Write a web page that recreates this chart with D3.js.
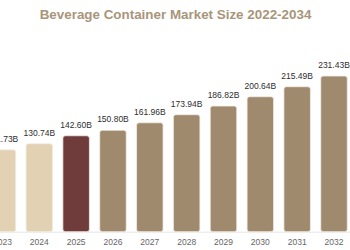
<!DOCTYPE html>
<meta charset="utf-8">
<style>
body { margin: 0; background: #fff; }
.title { font: bold 13.4px "Liberation Sans", Arial, sans-serif; fill: #a8957a; }
.vals { font: 8.5px "Liberation Sans", Arial, sans-serif; fill: #2e2e2e; }
.ticks text { font: 8.5px "Liberation Sans", Arial, sans-serif; fill: #666; }
</style>
<body>
<svg width="350" height="250"></svg>
</body>
<script src="https://cdn.jsdelivr.net/npm/d3@7"></script>
<script>

var years = ["2022","2023","2024","2025","2026","2027","2028","2029","2030","2031","2032","2033","2034"];
var values = [113.2, 121.73, 130.74, 142.60, 150.80, 161.96, 173.94, 186.82, 200.64, 215.49, 231.43, 248.55, 266.94];
var barColors = ["#e2d1b3","#e2d1b3","#e2d1b3","#6f3c3b","#a08a6e","#a08a6e","#a08a6e","#a08a6e","#a08a6e","#a08a6e","#a08a6e","#a08a6e","#a08a6e"];

var svg = d3.select("svg");
var baseY = 231.7;

// band layout wider than the window, the ends are cut off like in the original
var x = d3.scaleBand()
    .domain(years)
    .range([-52.8, 426.1])
    .paddingInner(0.28)
    .paddingOuter(0.14);

var y = d3.scaleLinear()
    .domain([0, 231.43])
    .range([baseY, 76]);

svg.append("text")
    .attr("class", "title")
    .attr("x", 175.5)
    .attr("y", 18.5)
    .attr("text-anchor", "middle")
    .text("Beverage Container Market Size 2022-2034");

svg.append("line")
    .attr("x1", 0).attr("x2", 350)
    .attr("y1", baseY + 0.5).attr("y2", baseY + 0.5)
    .attr("stroke", "#e6e6e6");

// bars with rounded corners
svg.append("g")
  .selectAll("rect")
  .data(values)
  .enter().append("rect")
    .attr("x", function(d, i) { return x(years[i]); })
    .attr("y", function(d) { return y(d); })
    .attr("width", x.bandwidth())
    .attr("height", function(d) { return baseY - y(d); })
    .attr("rx", 2.5)
    .attr("fill", function(d, i) { return barColors[i]; })
    .attr("stroke", "#f3eee6")
    .attr("stroke-width", 0.8);

svg.selectAll(".vals")
  .data(values)
  .enter().append("text")
    .attr("class", "vals")
    .attr("text-anchor", "middle")
    .attr("x", function(d, i) { return x(years[i]) + x.bandwidth() / 2; })
    .attr("y", function(d) { return y(d) - 8; })
    .text(function(d) { return d.toFixed(2) + "B"; });

var axis = d3.axisBottom(x).tickSize(0).tickPadding(7);
svg.append("g")
    .attr("class", "ticks")
    .attr("transform", "translate(0," + baseY + ")")
    .call(axis)
    .call(function(g) { g.select(".domain").remove(); });

</script>
